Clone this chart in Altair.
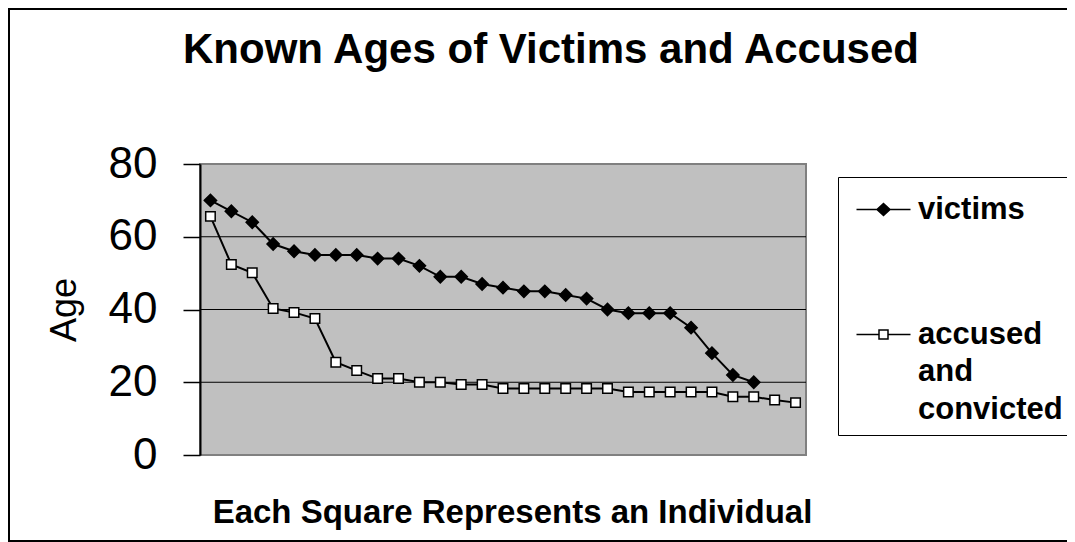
import altair as alt
import pandas as pd

FONT = "Liberation Sans"

series_names = ["victims", "accused and convicted"]
victims = [70, 67, 64, 58, 56, 55, 55, 55, 54, 54, 52, 49, 49, 47, 46, 45, 45, 44, 43,
           40, 39, 39, 39, 35, 28, 22, 20]
accused = [65.6, 52.4, 50.1, 40.3, 39.2, 37.5, 25.5, 23.2, 21, 21, 20, 20, 19.4, 19.4,
           18.3, 18.3, 18.3, 18.3, 18.3, 18.3, 17.3, 17.3, 17.3, 17.3, 17.3, 16, 16, 15.1, 14.4]
y_ticks = [0, 20, 40, 60, 80]
grid_values = [20, 40, 60]

rows = []
for i, v in enumerate(victims):
    rows.append({"series": series_names[0], "idx": i + 1, "age": v})
for i, v in enumerate(accused):
    rows.append({"series": series_names[1], "idx": i + 1, "age": v})
df = pd.DataFrame(rows)
grid_df = pd.DataFrame({"g": grid_values})
frame_df = pd.DataFrame({"b": [0]})

W, H = 606, 291
n_max = max(len(victims), len(accused))

x_enc = alt.X(
    "idx:Q",
    scale=alt.Scale(domain=[0.5, n_max + 0.5], nice=False, zero=False),
    axis=alt.Axis(
        title="Each Square Represents an Individual",
        labels=False, ticks=False, domain=False, grid=False,
        titleFont=FONT, titleFontSize=33, titleFontWeight="bold", titleColor="black",
        titlePadding=41, titleX=312,
    ),
)
y_enc = alt.Y(
    "age:Q",
    scale=alt.Scale(domain=[0, 80], nice=False),
    axis=alt.Axis(
        values=y_ticks, title="Age", grid=False,
        labelFont=FONT, labelFontSize=44, labelColor="black", labelPadding=26,
        tickSize=17, tickColor="black", tickWidth=1.5,
        domainColor="black", domainWidth=2,
        titleFont=FONT, titleFontSize=36, titleFontWeight="normal", titleColor="black",
        titlePadding=25,
    ),
)

# legend symbols: a short line with the series marker on it
legend_shapes = [
    "M-0.7,0H4.7M2,-0.6L2.65,0L2,0.6L1.35,0Z",
    "M-0.7,0H1.55M2.45,0H4.7M1.55,-0.45H2.45V0.45H1.55Z",
]

# small invisible title: only adds a little space above the first entry
legend = alt.Legend(
    title="_" * 10, titleFontSize=4, titlePadding=3, titleOpacity=0,
    orient="none", legendX=638, legendY=13, direction="vertical",
    strokeColor="black", fillColor="white", padding=10,
    labelFont=FONT, labelFontSize=31, labelFontWeight="bold", labelColor="black",
    labelBaseline="middle", labelOffset=39, rowPadding=93, labelLimit=400,
    symbolSize=400, symbolStrokeColor="black", symbolStrokeWidth=1.5, symbolOpacity=1,
    labelExpr="datum.label == 'accused and convicted' ? ['accused', 'and', 'convicted'] : datum.label",
)

frame = alt.Chart(frame_df).mark_rect(filled=False, stroke="black", strokeWidth=2, fillOpacity=0).encode(
    x=alt.value(-191), x2=alt.value(W + 300), y=alt.value(-155), y2=alt.value(377)
)

grid = alt.Chart(grid_df).mark_rule(color="black", strokeWidth=1).encode(y=alt.Y("g:Q"))

base = alt.Chart(df).encode(x=x_enc, y=y_enc)
lines = base.mark_line(color="black", strokeWidth=2).encode(detail="series:N")
points = base.mark_point(opacity=1, stroke="black", strokeWidth=1.5).encode(
    shape=alt.Shape("series:N", scale=alt.Scale(domain=series_names, range=["diamond", "square"]), legend=None),
    fill=alt.Fill("series:N", scale=alt.Scale(domain=series_names, range=["black", "white"]), legend=None),
    size=alt.Size("series:N", scale=alt.Scale(domain=series_names, range=[150, 90]), legend=None),
)
legend_layer = base.transform_filter("false").mark_point(opacity=1, strokeWidth=1.5).encode(
    shape=alt.Shape("series:N", scale=alt.Scale(domain=series_names, range=legend_shapes), legend=legend),
    fill=alt.Fill("series:N", scale=alt.Scale(domain=series_names, range=["black", "white"]), legend=legend),
    stroke=alt.Stroke("series:N", scale=alt.Scale(domain=series_names, range=["black", "black"]), legend=legend),
)

chart = alt.layer(frame, grid, lines, points, legend_layer).resolve_scale(
    shape="independent", fill="independent", stroke="independent"
).properties(
    width=W, height=H,
    autosize=alt.AutoSizeParams(type="none"),
    padding={"left": 192, "top": 156, "right": 261, "bottom": 87},
    background="white",
    title=alt.TitleParams(
        "Known Ages of Victims and Accused", font=FONT, fontSize=42, fontWeight="bold",
        color="black", anchor="middle", baseline="alphabetic", offset=-97, dx=48,
    ),
).configure(
    view={"fill": "#C0C0C0", "stroke": "#808080", "strokeWidth": 2},
    style={"guide-label": {"lineHeight": 37.5}},
)

chart.save("out.html", embed_options={"renderer": "svg", "actions": False})
